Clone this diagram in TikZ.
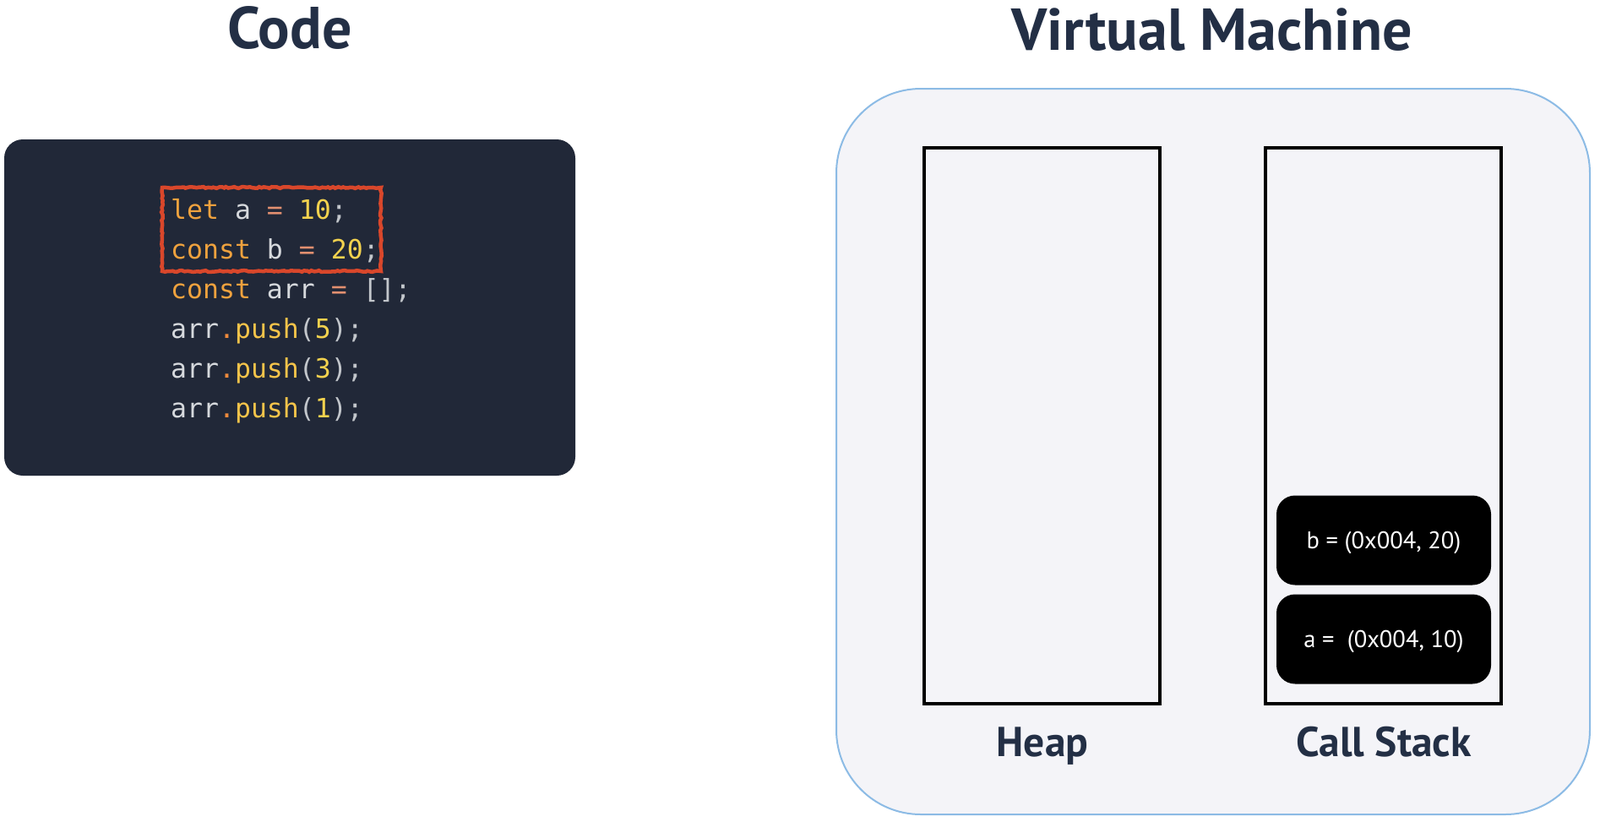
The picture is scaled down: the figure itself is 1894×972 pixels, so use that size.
\documentclass[tikz,border=0pt]{standalone}
\usepackage{fontspec}
\usepackage{xcolor}
\usetikzlibrary{decorations.pathmorphing}
\newfontfamily\uifont{PT Sans}
\newfontfamily\codefont{DejaVu Sans Mono}
\definecolor{navy}{HTML}{232F45}
\definecolor{codebg}{HTML}{212838}
\definecolor{vmfill}{HTML}{F4F4F8}
\definecolor{vmline}{HTML}{8CBBE5}
\definecolor{marker}{HTML}{D9472B}
\definecolor{ckw}{HTML}{EFA23E}
\definecolor{cid}{HTML}{D6D9DD}
\definecolor{ceq}{HTML}{E39070}
\definecolor{cnum}{HTML}{F3D24E}
\definecolor{cpun}{HTML}{C2C6CB}
\definecolor{cdt}{HTML}{F08A3C}
\definecolor{cfn}{HTML}{F5C44A}
\newcommand{\synKw}[1]{\textcolor{ckw}{#1}}
\newcommand{\synId}[1]{\textcolor{cid}{#1}}
\newcommand{\synEq}[1]{\textcolor{ceq}{#1}}
\newcommand{\synNum}[1]{\textcolor{cnum}{#1}}
\newcommand{\synPun}[1]{\textcolor{cpun}{#1}}
\newcommand{\synDot}[1]{\textcolor{cdt}{#1}}
\newcommand{\synFn}[1]{\textcolor{cfn}{#1}}
\begin{document}
\begin{tikzpicture}[x=1pt,y=-1pt,
  title/.style={anchor=base,inner sep=0pt,text=navy,font=\uifont\bfseries\fontsize{70}{74}\selectfont},
  label/.style={anchor=base,inner sep=0pt,text=navy,font=\uifont\bfseries\fontsize{49.5}{54}\selectfont},
  codeline/.style={anchor=base west,inner sep=0pt,font=\codefont\fontsize{31.5}{36}\selectfont},
  codebox/.style={fill=codebg,draw=none,rounded corners=22pt,minimum width=676pt,minimum height=398pt,inner sep=0pt},
  vmbox/.style={fill=vmfill,draw=vmline,line width=2pt,rounded corners=100pt,minimum width=892pt,minimum height=859pt,inner sep=0pt},
  region/.style={fill=vmfill,draw=black,line width=4pt,minimum width=279pt,minimum height=658pt,inner sep=0pt},
  stackitem/.style={fill=black,draw=none,rounded corners=22pt,minimum width=254pt,minimum height=106pt,inner sep=0pt,text depth=0pt,text=white,font=\uifont\fontsize{28.5}{32}\selectfont},
  markbox/.style={draw=marker,line width=4.5pt,decorate,decoration={random steps,segment length=3pt,amplitude=0.9pt}}
]
\useasboundingbox (0,0) rectangle (1894,972);
% titles
\node[title] (codetitle) at (343,57) {Code};
\node[title] (vmtitle) at (1435,59) {Virtual Machine};
% code panel
\node[codebox] (code) at (343,364) {};
\node[codeline] (l1) at (202,259) {\synKw{let} \synId{a} \synEq{=} \synNum{10}\synPun{;}};
\node[codeline] (l2) at (202,306) {\synKw{const} \synId{b} \synEq{=} \synNum{20}\synPun{;}};
\node[codeline] (l3) at (202,353) {\synKw{const} \synId{arr} \synEq{=} \synPun{[];}};
\node[codeline] (l4) at (202,400) {\synId{arr}\synDot{.}\synFn{push}\synPun{(}\synNum{5}\synPun{);}};
\node[codeline] (l5) at (202,447) {\synId{arr}\synDot{.}\synFn{push}\synPun{(}\synNum{3}\synPun{);}};
\node[codeline] (l6) at (202,494) {\synId{arr}\synDot{.}\synFn{push}\synPun{(}\synNum{1}\synPun{);}};
\coordinate (mkA) at (192,222);
\coordinate (mkB) at (451,321);
\draw[markbox] (mkA) rectangle (mkB);
% virtual machine
\node[vmbox] (vm) at (1436,534.5) {};
\node[region] (heap) at (1233.5,504) {};
\node[region] (stack) at (1637.5,504) {};
\node[stackitem] (itemb) at (1638,639.5) {b = (0x004, 20)};
\node[stackitem] (itema) at (1638,756.5) {a =\ \ (0x004, 10)};
\node[label] (heaplabel) at (1234,895) {Heap};
\node[label] (stacklabel) at (1638,895) {Call Stack};
\end{tikzpicture}
\end{document}
